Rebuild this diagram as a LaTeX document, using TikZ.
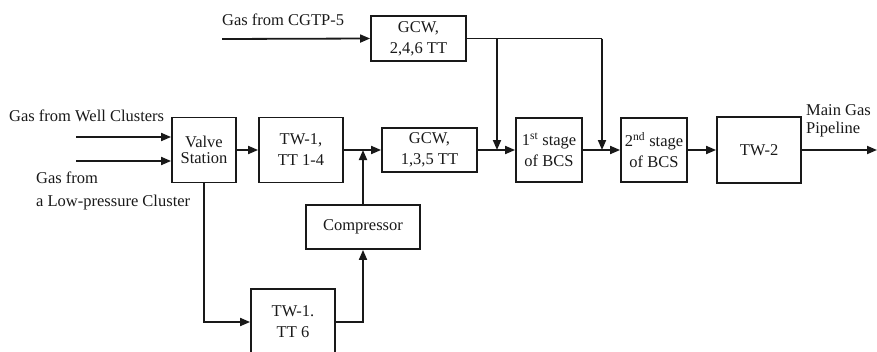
\documentclass[tikz,border=0pt]{standalone}
\usepackage{fontspec}
\setmainfont{Liberation Serif}
\usetikzlibrary{arrows.meta}
\begin{document}
\begin{tikzpicture}[x=1pt,y=-1pt,
  box/.style={draw=black!90, line width=1.8pt, inner sep=0pt, align=center, text=black!90,
    font=\fontsize{16.5}{21}\selectfont},
  lbl/.style={inner sep=0pt, text=black!90, font=\fontsize{16.5}{20}\selectfont},
  flow/.style={draw=black!90, line width=1.8pt, -{Triangle[length=10pt,width=8pt]}},
  line/.style={draw=black!90, line width=1.8pt}]
\useasboundingbox (0,0) rectangle (877,351);
\clip (0,0) rectangle (877,351);
% boxes
\node[box, minimum width=95pt, minimum height=45pt] (gcwa) at (418.5,38.5) {GCW,\\2,4,6 TT};
\node[box, minimum width=64pt, minimum height=65pt, font=\fontsize{16.5}{16.5}\selectfont] (valve) at (204,150) {Valve\\Station};
\node[box, minimum width=84pt, minimum height=65pt] (twa) at (301,150) {TW-1,\\TT 1-4};
\node[box, minimum width=95pt, minimum height=44pt] (gcwb) at (429.5,150) {GCW,\\1,3,5 TT};
\node[box, minimum width=66pt, minimum height=64pt] (bcsa) at (549,150) {1\textsuperscript{st} stage\\of BCS};
\node[box, minimum width=66pt, minimum height=64pt] (bcsb) at (654,150) {2\textsuperscript{nd} stage\\of BCS};
\node[box, minimum width=84pt, minimum height=66pt] (twc) at (759,150) {TW-2};
\node[box, minimum width=114pt, minimum height=44pt] (comp) at (363,227) {Compressor};
\node[box, minimum width=84pt, minimum height=66pt] (twb) at (293,322) {TW-1.\\TT 6};
% labels
\node[lbl, anchor=west] (lwell) at (9,116) {Gas from Well Clusters};
\node[lbl, anchor=west] (llow1) at (36,178) {Gas from};
\node[lbl, anchor=west] (llow2) at (36,203) {a Low-pressure Cluster};
\node[lbl, anchor=west] (lcgtp) at (222,20) {Gas from CGTP-5};
\node[lbl, anchor=west, align=left, font=\fontsize{16.5}{18}\selectfont] (lmain) at (806,121) {Main Gas\\Pipeline};
% coordinates
\coordinate (ina) at (76,137);
\coordinate (inb) at (76,161);
\coordinate (incgtp) at (222,39);
\coordinate (ja) at (497,150);
\coordinate (jb) at (602,150);
\coordinate (jc) at (363,150);
\coordinate (out) at (877,150);
% connectors
\draw[flow] (ina) -- (valve.west |- ina);
\draw[flow] (inb) -- (valve.west |- inb);
\draw[flow] (incgtp) -- (gcwa.west);
\draw[flow] (valve) -- (twa);
\draw[flow] (twa) -- (gcwb);
\draw[flow] (comp.north) -- (jc);
\draw[flow] (gcwb) -- (bcsa);
\draw[line] (gcwa.east) -- (gcwa.east -| jb);
\draw[flow] (gcwa.east -| jb) -- (jb);
\draw[flow] (gcwa.east -| ja) -- (ja);
\draw[flow] (bcsa) -- (bcsb);
\draw[flow] (bcsb) -- (twc);
\draw[flow] (twc.east) -- (out);
\draw[flow] (valve.south) |- (twb.west);
\draw[flow] (twb.east) -| (comp.south);
\end{tikzpicture}
\end{document}
